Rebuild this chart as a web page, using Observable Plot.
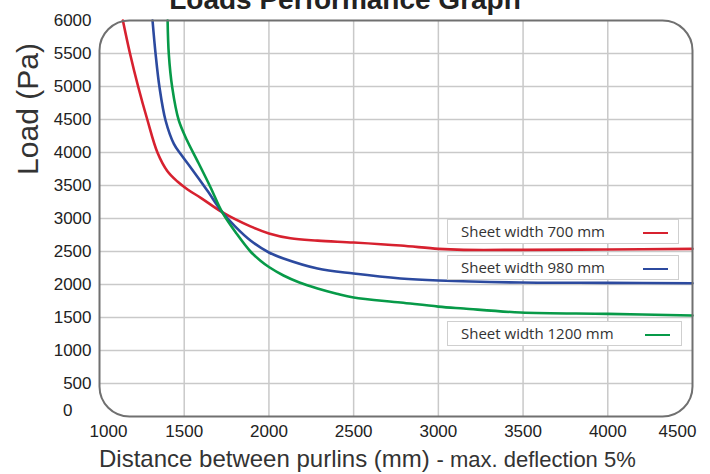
<!DOCTYPE html>
<html><head><meta charset="utf-8">
<script src="https://cdn.jsdelivr.net/npm/d3@7"></script>
<script src="https://cdn.jsdelivr.net/npm/@observablehq/plot@0.6"></script>
<style>
html,body{margin:0;padding:0;background:#fff;overflow:hidden}
#wrap{position:relative;width:710px;height:474px}
#title{position:absolute;left:0;width:690px;text-align:center;top:-14px;font:bold 28px "Liberation Sans",Arial,sans-serif;line-height:28px;color:#222;white-space:nowrap}
#ylab{position:absolute;left:28px;top:109px;transform:translate(-50%,-50%) rotate(-90deg);font:30px "Liberation Sans",Arial,sans-serif;line-height:30px;color:#333;white-space:nowrap}
#xlab{position:absolute;left:99px;top:447px;font:24px "Liberation Sans",Arial,sans-serif;line-height:24px;color:#333;white-space:nowrap}
#xlab .small{font-size:22px}
.leg{position:absolute;left:447px;height:25px;border:1.5px solid #cfcfcf;background:#fff;box-sizing:border-box;font:15px "Open Sans",sans-serif;color:#333;line-height:22px;padding-left:13px;white-space:nowrap}
.leg .swatch{position:absolute;top:12px;width:25px;height:0;border-top:2px solid}
</style>
</head><body>
<div id="wrap"></div>
<script>
const seriesNames = ["Sheet width 700 mm", "Sheet width 980 mm", "Sheet width 1200 mm"];
const seriesColors = ["#d7212f", "#2c4a9f", "#079a48"];

const xTicks = [1000, 1500, 2000, 2500, 3000, 3500, 4000, 4500];
const yTicks = [0, 500, 1000, 1500, 2000, 2500, 3000, 3500, 4000, 4500, 5000, 5500, 6000];
const xGrid = [1500, 2000, 2500, 3000, 3500, 4000];
const yGrid = [500, 1000, 1500, 2000, 2500, 3000, 3500, 4000, 4500, 5000, 5500];

const distance700 = [1138, 1180, 1228, 1282, 1342, 1400, 1460, 1520, 1600, 1724, 1891, 2000, 2127, 2287, 2500, 2777, 3000, 3150, 3500, 4000, 4500];
const load700     = [6000, 5500, 5000, 4500, 4000, 3720, 3560, 3440, 3310, 3096, 2880, 2773, 2700, 2665, 2636, 2590, 2540, 2525, 2525, 2530, 2540];

const distance980 = [1313, 1331, 1354, 1390, 1439, 1478, 1537, 1636, 1724, 1800, 1891, 2000, 2086, 2287, 2500, 2777, 3000, 3485, 4000, 4500];
const load980     = [6000, 5495, 4990, 4485, 4131, 3980, 3777, 3424, 3096, 2880, 2666, 2485, 2394, 2242, 2166, 2091, 2060, 2030, 2025, 2020];

const distance1200 = [1402, 1409, 1429, 1468, 1517, 1577, 1655, 1724, 1812, 1891, 1950, 2000, 2086, 2180, 2287, 2400, 2500, 2777, 3000, 3150, 3485, 4000, 4500];
const load1200     = [6000, 5495, 4990, 4485, 4182, 3878, 3474, 3096, 2760, 2500, 2360, 2265, 2136, 2030, 1939, 1860, 1803, 1727, 1665, 1636, 1576, 1555, 1530];

const rows = [];
[[distance700, load700], [distance980, load980], [distance1200, load1200]].forEach(([xs, ys], i) => {
  xs.forEach((x, j) => rows.push({series: seriesNames[i], distance: x, load: ys[j]}));
});

const gridStyle = {stroke: "#c9c9c9", strokeOpacity: 1, strokeWidth: 1.5};
const fmt = d => String(d);
const axisStyle = {tickSize: 0, label: null, tickFormat: fmt};

const chart = Plot.plot({
  width: 710, height: 474,
  marginTop: 20, marginRight: 18, marginBottom: 58, marginLeft: 99,
  style: {fontFamily: "'Liberation Sans',Arial,sans-serif", fontSize: "17px", color: "#222", background: "transparent"},
  x: {domain: [1000, 4500], label: null},
  y: {domain: [0, 6000], label: null},
  color: {domain: seriesNames, range: seriesColors},
  marks: [
    Plot.gridX(xGrid, gridStyle),
    Plot.gridY(yGrid, gridStyle),
    Plot.line(rows, {x: "distance", y: "load", stroke: "series", curve: "catmull-rom", strokeWidth: 2.6}),
    Plot.frame({rx: 30, ry: 30, stroke: "#707070", strokeWidth: 2}),
    Plot.axisX(xTicks.slice(1, -1), {...axisStyle, tickPadding: 8}),
    Plot.axisX(xTicks.slice(0, 1), {...axisStyle, tickPadding: 8, dx: 9}),
    Plot.axisX(xTicks.slice(-1), {...axisStyle, tickPadding: 8, dx: -15}),
    Plot.axisY(yTicks.slice(1), {...axisStyle, tickPadding: 8}),
    Plot.axisY(yTicks.slice(0, 1), {...axisStyle, tickPadding: 8, dx: -19, dy: -6})
  ]
});

const wrap = document.getElementById("wrap");
wrap.appendChild(chart);

const title = document.createElement("div");
title.id = "title";
title.textContent = "Loads Performance Graph";
wrap.appendChild(title);

const ylab = document.createElement("div");
ylab.id = "ylab";
ylab.textContent = "Load (Pa)";
wrap.appendChild(ylab);

const xlab = document.createElement("div");
xlab.id = "xlab";
xlab.innerHTML = 'Distance between purlins (mm) <span class="small">- max. deflection 5%</span>';
wrap.appendChild(xlab);

const legTops = [219, 255, 321];
const legWidths = [232, 232, 235];
const swatchLeft = [195, 195, 197];
seriesNames.forEach((name, i) => {
  const box = document.createElement("div");
  box.className = "leg";
  box.style.top = legTops[i] + "px";
  box.style.width = legWidths[i] + "px";
  box.textContent = name;
  const sw = document.createElement("div");
  sw.className = "swatch";
  sw.style.left = swatchLeft[i] + "px";
  sw.style.borderTopColor = seriesColors[i];
  box.appendChild(sw);
  wrap.appendChild(box);
});
</script>
</body></html>
